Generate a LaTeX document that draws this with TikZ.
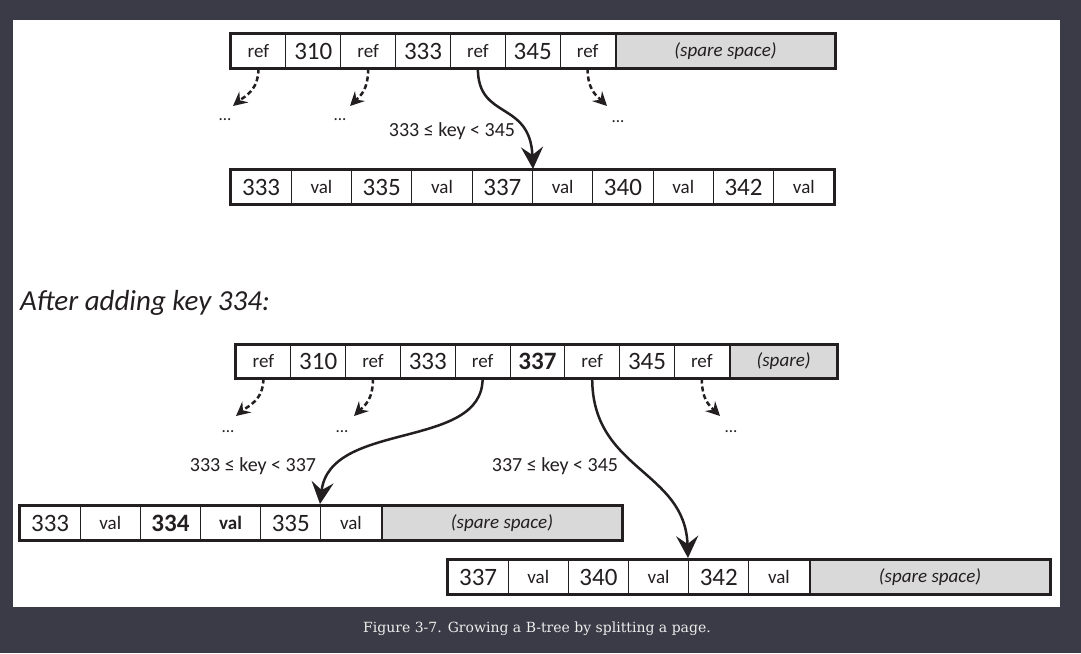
\documentclass[tikz,border=0pt]{standalone}
\usepackage{fontspec}
\setmainfont{Carlito}
\newfontfamily\capfont{DejaVu Serif}
\usetikzlibrary{arrows.meta}
\definecolor{bg}{HTML}{3B3B47}
\definecolor{ink}{HTML}{231F20}
\definecolor{sparecol}{HTML}{D9D9D9}
\definecolor{capc}{HTML}{EDEDED}
\begin{document}
\begin{tikzpicture}[x=1pt,y=-1pt,
 cell/.style={draw=ink, line width=1pt, inner sep=0pt, minimum height=34pt, text=ink},
 numc/.style={cell, font=\fontsize{25}{25}\selectfont},
 refc/.style={cell, font=\fontsize{19}{19}\selectfont},
 sparec/.style={cell, fill=sparecol, font=\itshape\fontsize{19}{19}\selectfont},
 outer/.style={draw=ink, line width=2.5pt},
 solidarr/.style={draw=ink, line width=2.5pt, -{Stealth[length=22pt,width=22pt,inset=8pt]}},
 dasharr/.style={draw=ink, line width=2.5pt, dash pattern=on 5pt off 3pt, -{Stealth[length=14pt,width=14pt,inset=5pt]}},
 lbl/.style={font=\fontsize{20}{20}\selectfont, text=ink},
 dotsl/.style={font=\fontsize{17}{17}\selectfont, text=ink}
]
\useasboundingbox (0,0) rectangle (1081,653);
\fill[bg] (0,0) rectangle (1081,653);
\fill[white] (13,20) rectangle (1060,607);

% ---- top page (before)
\foreach \i in {0,2,4,6}
  \node[refc, minimum width=54.86pt] (A\i) at ({231+54.86*(\i+0.5)},51) {ref};
\foreach \i/\t in {1/310,3/333,5/345}
  \node[numc, minimum width=54.86pt] (A\i) at ({231+54.86*(\i+0.5)},51) {\t};
\node[sparec, minimum width=219pt, anchor=west] (As) at (A6.east) {(spare space)};
\draw[outer] (A0.north west) rectangle (As.south east);

% ---- leaf (before)
\foreach \i/\t in {0/333,2/335,4/337,6/340,8/342}
  \node[numc, minimum width=60.3pt] (L\i) at ({231+60.3*(\i+0.5)},187) {\t};
\foreach \i in {1,3,5,7,9}
  \node[refc, minimum width=60.3pt] (L\i) at ({231+60.3*(\i+0.5)},187) {val};
\draw[outer] (L0.north west) rectangle (L9.south east);

% arrows (before)
\coordinate (e0) at (233,106);
\coordinate (e2) at (350,106);
\coordinate (e6) at (607,106);
\coordinate (e4) at (533,169);
\draw[dasharr] (A0.south) .. controls +(0,22) and +(12,-10) .. (e0);
\draw[dasharr] (A2.south) .. controls +(0,22) and +(10,-10) .. (e2);
\draw[dasharr] (A6.south) .. controls +(0,22) and +(-10,-10) .. (e6);
\draw[solidarr] (A4.south) .. controls +(0,52) and (530,100) .. (e4);
\node[dotsl] (d0) at (225,120) {...};
\node[dotsl] (d2) at (340,120) {...};
\node[dotsl] (d6) at (618,122) {...};
\node[lbl] (k1) at (452,131) {333 ≤ key < 345};

% ---- title
\node[font=\itshape\fontsize{29}{29}\selectfont, anchor=west, text=ink, inner sep=0pt] (title) at (20,303) {After adding key 334:};

% ---- top page (after)
\foreach \i in {0,2,4,6,8}
  \node[refc, minimum width=54.8pt, minimum height=33pt] (B\i) at ({236+54.8*(\i+0.5)},361.5) {ref};
\foreach \i/\t in {1/310,3/333,5/\textbf{337},7/345}
  \node[numc, minimum width=54.8pt, minimum height=33pt] (B\i) at ({236+54.8*(\i+0.5)},361.5) {\t};
\node[sparec, minimum width=106.8pt, minimum height=33pt, anchor=west] (Bs) at (B8.east) {(spare)};
\draw[outer] (B0.north west) rectangle (Bs.south east);

% ---- leaf C (left)
\foreach \i/\t in {0/333,2/\textbf{334},4/335}
  \node[numc, minimum width=60.17pt] (C\i) at ({20+60.17*(\i+0.5)},523) {\t};
\foreach \i/\t in {1/val,3/\textbf{val},5/val}
  \node[refc, minimum width=60.17pt] (C\i) at ({20+60.17*(\i+0.5)},523) {\t};
\node[sparec, minimum width=240pt, anchor=west] (Cs) at (C5.east) {(spare space)};
\draw[outer] (C0.north west) rectangle (Cs.south east);

% ---- leaf D (right)
\foreach \i/\t in {0/337,2/340,4/342}
  \node[numc, minimum width=60.17pt] (D\i) at ({448+60.17*(\i+0.5)},577) {\t};
\foreach \i in {1,3,5}
  \node[refc, minimum width=60.17pt] (D\i) at ({448+60.17*(\i+0.5)},577) {val};
\node[sparec, minimum width=240pt, anchor=west] (Ds) at (D5.east) {(spare space)};
\draw[outer] (D0.north west) rectangle (Ds.south east);

% arrows (after)
\coordinate (f0) at (236,416);
\coordinate (f2) at (354,416);
\coordinate (f8) at (720,416);
\coordinate (f4) at (320,504);
\coordinate (f6) at (688,558);
\draw[dasharr] (B0.south) .. controls +(0,22) and +(12,-10) .. (f0);
\draw[dasharr] (B2.south) .. controls +(0,22) and +(10,-10) .. (f2);
\draw[dasharr] (B8.south) .. controls +(0,22) and +(-10,-10) .. (f8);
\draw[solidarr] (B4.south) .. controls +(0,72) and (330,420) .. (f4);
\draw[solidarr] (B6.south) .. controls +(0,92) and (685,470) .. (f6);
\node[dotsl] (g0) at (228,432) {...};
\node[dotsl] (g2) at (342,432) {...};
\node[dotsl] (g8) at (731,432) {...};
\node[lbl] (k2) at (253,466) {333 ≤ key < 337};
\node[lbl] (k3) at (555,466) {337 ≤ key < 345};

% ---- caption
\node[font=\capfont\fontsize{14}{14}\selectfont, text=capc] (cap) at (537,629) {Figure 3-7. Growing a B-tree by splitting a page.};
\end{tikzpicture}
\end{document}
